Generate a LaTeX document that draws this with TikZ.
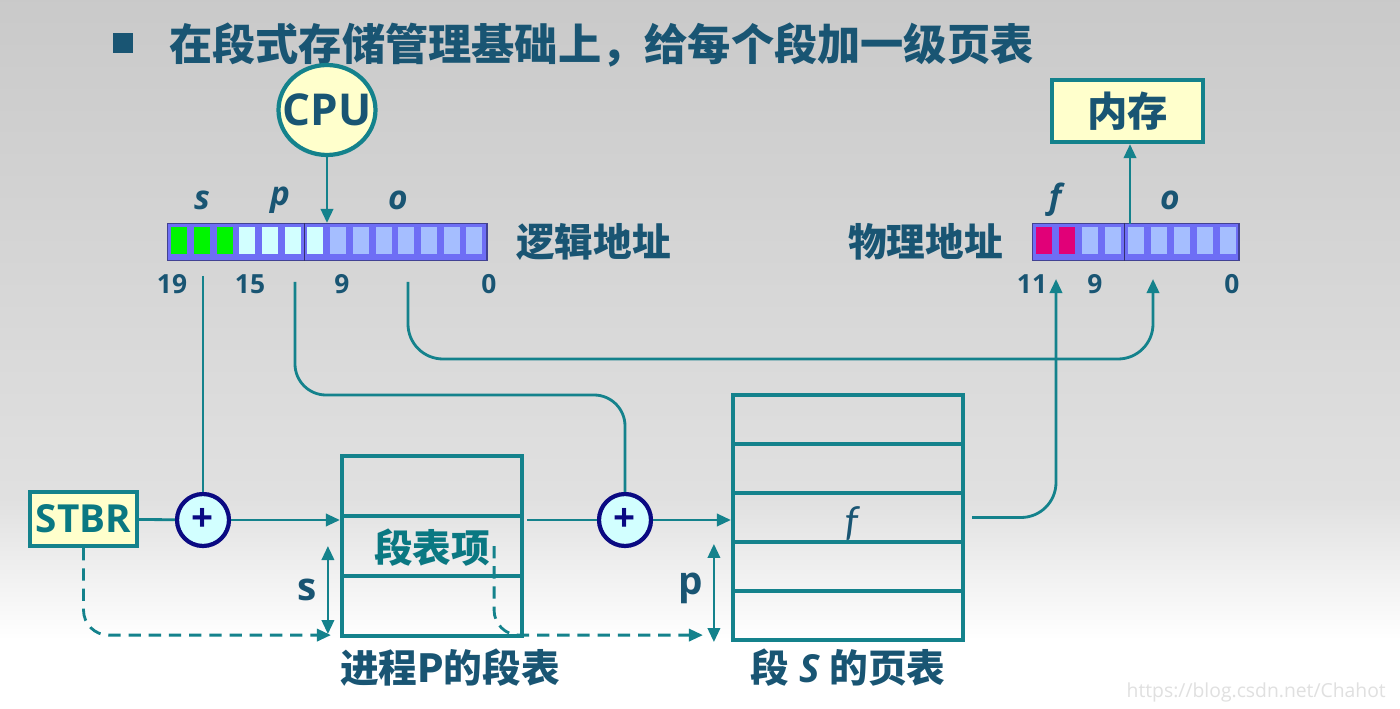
\documentclass[tikz,border=0pt]{standalone}
\usepackage{fontspec}
\setmainfont{Noto Sans CJK SC}
\newfontfamily\latinfont{Open Sans}
\newfontfamily\calfont{Carlito}
\usetikzlibrary{shapes.geometric, arrows.meta, positioning, calc}
\definecolor{lineteal}{RGB}{20,130,140}
\definecolor{textdark}{RGB}{25,85,115}
\definecolor{textteal}{RGB}{10,120,130}
\definecolor{addnavy}{RGB}{10,10,130}
\definecolor{boxyellow}{RGB}{255,255,204}
\definecolor{addcyan}{RGB}{210,255,255}
\definecolor{barblue}{RGB}{110,110,245}
\definecolor{cellblue}{RGB}{165,190,255}
\definecolor{cellcyan}{RGB}{210,255,255}
\definecolor{cellgreen}{RGB}{0,245,0}
\definecolor{cellred}{RGB}{225,0,120}

\begin{document}
\begin{tikzpicture}[
    x=0.02cm, y=-0.02cm,
    line/.style={lineteal, line width=1.6pt},
    arrow/.style={line, -{Stealth[length=8pt, width=7pt, inset=0pt]}},
    darrow/.style={line, {Stealth[length=8pt, width=7pt, inset=0pt]}-{Stealth[length=8pt, width=7pt, inset=0pt]}},
    dasharrow/.style={arrow, dash pattern=on 7pt off 4.5pt},
    regbox/.style={rectangle, draw=lineteal, line width=2.4pt, fill=boxyellow, inner sep=0pt},
    adder/.style={circle, draw=addnavy, line width=2.4pt, fill=addcyan, minimum size=1.04cm, inner sep=0pt, text=addnavy, font=\latinfont\bfseries\fontsize{22}{22}\selectfont},
    tabrow/.style={rectangle, draw=lineteal, line width=2.4pt, minimum width=3.6cm, minimum height=1.2cm, inner sep=0pt},
    pagerow/.style={tabrow, minimum width=4.6cm, minimum height=0.98cm},
    addrbar/.style={rectangle, fill=barblue, draw=barblue!60!black, line width=0.6pt, minimum height=0.74cm, inner sep=0pt},
    field/.style={text=textdark, font=\latinfont\bfseries\itshape\fontsize{19}{19}\selectfont},
    bitnum/.style={text=textdark, font=\latinfont\bfseries\fontsize{15}{15}\selectfont},
    cjklabel/.style={text=textdark, font=\bfseries\fontsize{22}{22}\selectfont}
]

% Background
\shade[top color=black!21, bottom color=black!12] (0,0) rectangle (1400,500);
\shade[top color=black!12, bottom color=white] (0,500) rectangle (1400,640);
\fill[white] (0,640) rectangle (1400,709);
\useasboundingbox (0,0) rectangle (1400,709);

% Title
\node[fill=textdark, minimum size=0.4cm, inner sep=0pt] (bullet) at (123,43) {};
\node[anchor=west, text=textdark, font=\bfseries\fontsize{24.6}{24.6}\selectfont] (title) at (163,45) {在段式存储管理基础上，给每个段加一级页表};

% CPU and logical address
\node[ellipse, draw=lineteal, line width=2.4pt, fill=boxyellow, minimum width=1.94cm, minimum height=1.8cm, inner sep=0pt, text=textdark, font=\latinfont\bfseries\fontsize{25}{25}\selectfont] (cpu) at (327,110) {\makebox[0pt]{CPU}};
\node[addrbar, minimum width=6.4cm] (laddr) at (327,242) {};
\foreach \i/\c in {0/cellgreen,1/cellgreen,2/cellgreen,3/cellcyan,4/cellcyan,5/cellcyan,6/cellcyan,
    7/cellblue,8/cellblue,9/cellblue,10/cellblue,11/cellblue,12/cellblue,13/cellblue}
    \fill[\c] ($(laddr.north west)+(4.7+\i*22.7,4.5)$) rectangle ++(16,27);
\draw[barblue!45!black, line width=0.8pt] ($(laddr.north west)+(138,0)$) -- ($(laddr.south west)+(138,0)$);
\node[cjklabel, right=0.45cm of laddr] (lname) {逻辑地址};
\node[field] (sfield) at (202,200) {s};
\node[field] (pfield) at (280,200) {p};
\node[field] (ofield) at (398,200) {o};
\node[bitnum] (b19) at (172,284) {19};
\node[bitnum] (b15) at (250,284) {15};
\node[bitnum] (b9) at (342,284) {9};
\node[bitnum] (b0) at (489,284) {0};

% Physical address and memory
\node[addrbar, minimum width=4.14cm] (paddr) at (1135.5,242) {};
\foreach \i/\c in {0/cellred,1/cellred,2/cellblue,3/cellblue,4/cellblue,5/cellblue,6/cellblue,7/cellblue,8/cellblue}
    \fill[\c] ($(paddr.north west)+(4.7+\i*23,4.5)$) rectangle ++(16,27);
\draw[barblue!45!black, line width=0.8pt] ($(paddr.north west)+(93,0)$) -- ($(paddr.south west)+(93,0)$);
\node[cjklabel, left=0.45cm of paddr] (pname) {物理地址};
\node[field] (ffield) at (1055,200) {f};
\node[field] (o2field) at (1170,200) {o};
\node[bitnum] (c11) at (1032,284) {11};
\node[bitnum] (c9) at (1095,284) {9};
\node[bitnum] (c0) at (1232,284) {0};
\node[regbox, minimum width=3.02cm, minimum height=1.24cm, text=textdark, font=\bfseries\fontsize{23}{23}\selectfont] (mem) at (1127.5,111) {内存};

% STBR and adders
\node[regbox, minimum width=2.14cm, minimum height=1.08cm, text=textteal, font=\latinfont\bfseries\fontsize{22}{22}\selectfont] (stbr) at (83.5,519) {STBR};
\node[adder] (plus1) at (203,520) {+};
\node[adder] (plus2) at (625,520) {+};

% Segment table of process P
\node[tabrow] (seg1) at (432,486) {};
\node[tabrow] (seg2) at (432,546) {};
\node[tabrow] (seg3) at (432,606) {};
\node[text=textteal, font=\bfseries\fontsize{22}{22}\selectfont] (segitem) at (432,548) {段表项};
\node[cjklabel] (segname) at (450,668) {进程P的段表};

% Page table of segment S
\node[pagerow] (pt1) at (848,419.5) {};
\node[pagerow] (pt2) at (848,468.5) {};
\node[pagerow] (pt3) at (848,517.5) {};
\node[pagerow] (pt4) at (848,566.5) {};
\node[pagerow] (pt5) at (848,615.5) {};
\node[text=textdark, font=\calfont\itshape\fontsize{24}{24}\selectfont] (fentry) at (852,524) {f};
\node[cjklabel] (ptname) at (848,668) {段{\latinfont\bfseries\itshape\ S\ }的页表};

% Bit fields going down
\coordinate (sbit) at (203,276);
\coordinate (pbit) at (295,282);
\coordinate (obit) at (408,282);
\coordinate (pturn) at (0,395);
\coordinate (oturn) at (0,359);
\coordinate (oin) at (1153,279);
\coordinate (fin) at (1056,279);
\coordinate (phdiv) at (1130,224);

% Arrows
\draw[arrow] (cpu) -- (cpu |- laddr.north);
\draw[arrow] (phdiv) -- (phdiv |- mem.south);
\draw[line] (sbit) -- (plus1);
\draw[line, rounded corners=0.62cm] (pbit) |- (plus2 |- pturn) -- (plus2);
\draw[arrow, rounded corners=0.7cm] (obit) |- (oin |- oturn) -- (oin);
\draw[line] (stbr) -- (plus1);
\draw[arrow] (plus1) -- (plus1 -| seg2.west);
\draw[line] ($(seg2.east |- plus2)+(3,0)$) -- (plus2);
\draw[arrow] (plus2) -- (plus2 -| pt3.west);
\draw[arrow, rounded corners=0.7cm] ($(pt3.east)+(7,0)$) -| (fin);

% Offsets s and p
\draw[darrow] ($(seg2.west)+(-12,0)$) -- ($(seg3.south west)+(-12,-4)$);
\node[text=textdark, font=\latinfont\bfseries\fontsize{22}{22}\selectfont] (slab) at (307,590) {s};
\draw[darrow] ($(pt4.north west)+(-17,4)$) -- ($(pt5.south west)+(-17,0)$);
\node[text=textdark, font=\latinfont\bfseries\fontsize{22}{22}\selectfont] (plab) at (691,588) {p};

% Dashed address paths
\draw[dasharrow, rounded corners=0.5cm] (stbr.south) |- ($(seg3.south west)+(-9,-3)$);
\draw[dasharrow, rounded corners=0.5cm] ($(seg2.east)+(-30,0)$) |- ($(pt5.south west)+(-28,-7)$);

% Watermark
\node[anchor=east, text=black!12, font=\latinfont\fontsize{11}{11}\selectfont] (mark) at (1392,692) {https://blog.csdn.net/Chahot};

\end{tikzpicture}
\end{document}
